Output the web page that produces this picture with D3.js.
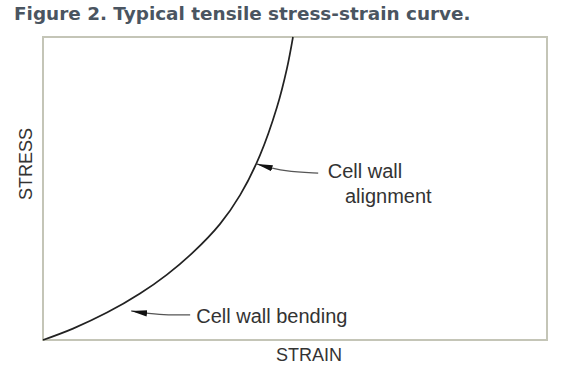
<!DOCTYPE html>
<html>
<head>
<meta charset="utf-8">
<script src="https://cdn.jsdelivr.net/npm/d3@7"></script>
<style>
  body { margin: 0; background: #fff; }
  svg { display: block; }
</style>
</head>
<body>
<div id="chart"></div>
<script>
// curve (arbitrary units, 0-100 on both axes)
var strain = [0, 5.95, 12.7, 19.25, 24.6, 29.76, 35.1, 39.1, 43.06, 46.4, 48.4, 49.6];
var stress = [0, 3.76, 9.04, 15.35, 21.6, 28.9, 38.25, 47.8, 61.0, 76.7, 89.6, 100];

// annotations: arrow tip, arrow tail, text lines (data units)
var notes = [
    { tip: [42.4, 58.1], mid: [48, 55.5], tail: [54.6, 55.1], lines: ["Cell wall", "alignment"], tx: [56.5, 59.9], ty: [53.5, 45.2] },
    { tip: [17.5, 9.6], mid: [23, 8.2], tail: [29.2, 8.3], lines: ["Cell wall bending"], tx: [30.4], ty: [5.6] }
];

var title = "Figure 2. Typical tensile stress-strain curve.";
var xLabel = "STRAIN";
var yLabel = "STRESS";

var width = 565;
var height = 371;
var margin = { top: 37, right: 18, bottom: 31, left: 43 };

var svg = d3.select("#chart")
    .append("svg")
    .attr("width", width)
    .attr("height", height);

var x = d3.scaleLinear()
    .domain([0, 100])
    .range([margin.left, width - margin.right]);

var y = d3.scaleLinear()
    .domain([0, 100])
    .range([height - margin.bottom, margin.top]);

// title, stretched to the width seen in the figure
var t = svg.append("text")
    .attr("x", 14)
    .attr("y", 20)
    .style("font-family", "'DejaVu Sans', Verdana, sans-serif")
    .style("font-weight", "bold")
    .style("font-size", "16px")
    .style("fill", "#4a5561")
    .text(title);
var len = t.node().getComputedTextLength();
t.style("font-size", (16 * 457 / len).toFixed(2) + "px");

// frame
svg.append("rect")
    .attr("x", x(0))
    .attr("y", y(100))
    .attr("width", x(100) - x(0))
    .attr("height", y(0) - y(100))
    .attr("fill", "none")
    .attr("stroke", "#c4c5b7")
    .attr("stroke-width", 2);

var line = d3.line()
    .x(function (d, i) { return x(d); })
    .y(function (d, i) { return y(stress[i]); })
    .curve(d3.curveCatmullRom.alpha(0.5));

svg.append("path")
    .datum(strain)
    .attr("d", line)
    .attr("fill", "none")
    .attr("stroke", "#222")
    .attr("stroke-width", 1.7);

svg.append("defs").append("marker")
    .attr("id", "head")
    .attr("markerUnits", "userSpaceOnUse")
    .attr("markerWidth", 18)
    .attr("markerHeight", 10)
    .attr("viewBox", "0 -5 18 10")
    .attr("refX", 16)
    .attr("refY", 0)
    .attr("orient", "auto-start-reverse")
    .append("path")
    .attr("d", "M0,-3.2L16,0L0,3.2Z")
    .attr("fill", "#111");

var arrow = d3.line()
    .x(function (d) { return x(d[0]); })
    .y(function (d) { return y(d[1]); })
    .curve(d3.curveBasis);

var note = svg.selectAll(".note")
    .data(notes)
    .enter()
    .append("g")
    .attr("class", "note");

note.append("path")
    .attr("d", function (d) { return arrow([d.tip, d.mid, d.tail]); })
    .attr("fill", "none")
    .attr("stroke", "#555")
    .attr("stroke-width", 1.3)
    .attr("marker-start", "url(#head)");

note.each(function (d) {
    var g = d3.select(this);
    d.lines.forEach(function (s, i) {
        g.append("text")
            .attr("x", x(d.tx[i]))
            .attr("y", y(d.ty[i]))
            .style("font-family", "'Liberation Sans', Arial, sans-serif")
            .style("font-size", "20px")
            .style("fill", "#333")
            .text(s);
    });
});

svg.append("text")
    .attr("x", 309)
    .attr("y", 361)
    .attr("text-anchor", "middle")
    .style("font-family", "'Liberation Sans', Arial, sans-serif")
    .style("font-size", "18px")
    .style("fill", "#333")
    .text(xLabel);

svg.append("text")
    .attr("transform", "translate(32,164) rotate(-90)")
    .attr("text-anchor", "middle")
    .style("font-family", "'Liberation Sans', Arial, sans-serif")
    .style("font-size", "18px")
    .style("fill", "#333")
    .text(yLabel);
</script>
</body>
</html>
